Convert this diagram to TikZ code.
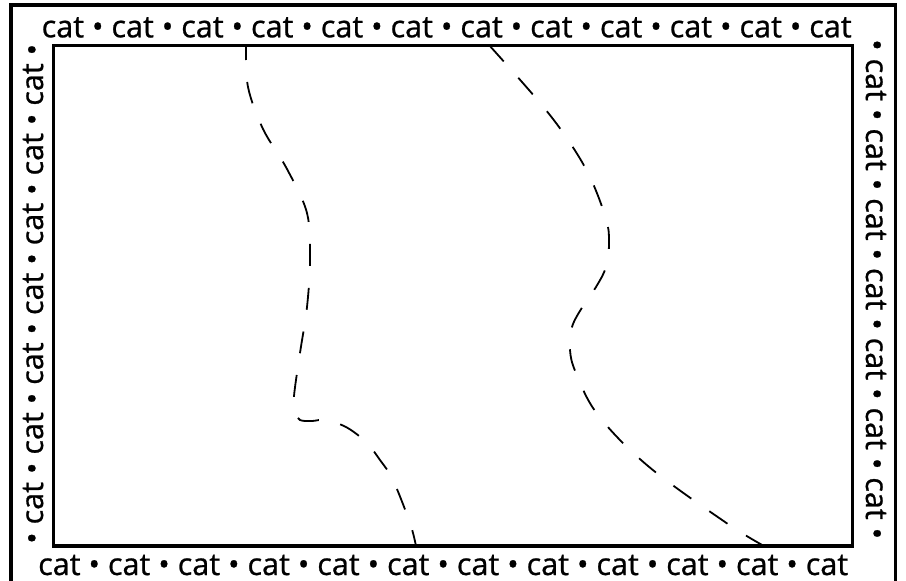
\documentclass[tikz,border=0pt]{standalone}
\usepackage{fontspec}
\setmainfont{Open Sans}
\newfontfamily\rimfont{Open Sans}[FakeBold=0.8]
\tikzstyle{outer}=[draw=black, line width=3.6pt]
\tikzstyle{inner}=[draw=black, line width=3.6pt]
\tikzstyle{rim}=[inner sep=0pt, anchor=base west, font=\rimfont\fontsize{30.6}{30.6}\selectfont]
\tikzstyle{trail}=[draw=black, line width=1.8pt, dash pattern=on 22pt off 22pt]
\begin{document}
\begin{tikzpicture}[x=1pt, y=-1pt]
	\useasboundingbox (0,0) rectangle (906,581);
	%% frames
	\draw[outer] (11,5) rectangle (895.5,592);
	\draw[inner] (53.3,45.3) rectangle (852.3,546);
	%%
	\draw (41.5,37.3) node[rim] (top) {cat • cat • cat • cat • cat • cat • cat • cat • cat • cat • cat • cat};
	\draw (38,575) node[rim] (bottom) {cat • cat • cat • cat • cat • cat • cat • cat • cat • cat • cat • cat};
	\draw (43,544) node[rim, rotate=90] (left) {• cat • cat • cat • cat • cat • cat • cat •};
	\draw (866,39) node[rim, rotate=-90] (right) {• cat • cat • cat • cat • cat • cat • cat •};
	%%%%%%
	\draw[trail, dash phase=7pt] plot[smooth, tension=0.55] coordinates {(246,45) (248,87) (263,129) (287,169) (307,213) (310,260) (307,307) (300,353) (294,396) (295,412) (300,420) (312,421) (325,420) (346,427) (366,442) (380,460) (393,480) (410,523) (416,546)};
	%%
	\draw[trail] plot[smooth, tension=0.6] coordinates {(489,45) (535,97) (564,134) (589,175) (606,219) (609,243) (606,267) (596,287) (583,306) (572,327) (570,350) (576,373) (598,415) (648,466) (725,522) (764,546)};
\end{tikzpicture}
\end{document}
